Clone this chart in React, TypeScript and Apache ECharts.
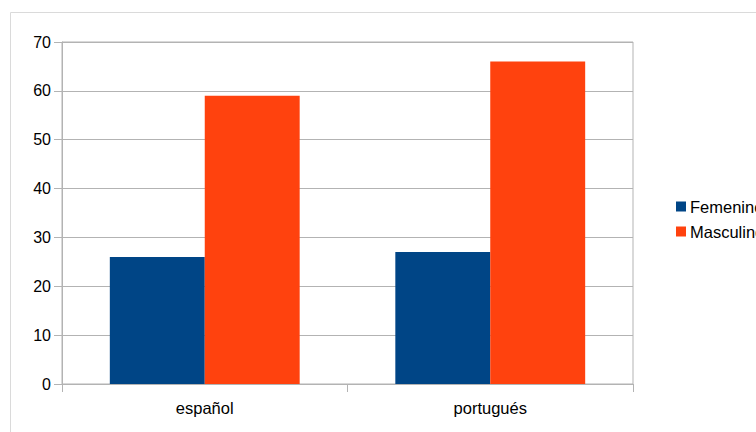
import React, { useEffect, useRef } from "react";
import * as echarts from "echarts";

const categories = ["español", "portugués"];
const femenino = [26, 27];
const masculino = [59, 66];
const seriesNames = ["Femenino", "Masculino"];

const FONT = "'Liberation Sans', Arial, sans-serif";
const GRID = "#b3b3b3";

export default function App() {
  const ref = useRef<HTMLDivElement>(null);

  useEffect(() => {
    if (!ref.current) return;
    const chart = echarts.init(ref.current, undefined, { renderer: "svg" });
    chart.setOption({
      animation: false,
      backgroundColor: "#ffffff",
      textStyle: { fontFamily: FONT },
      graphic: [
        {
          type: "rect",
          shape: { x: 10.5, y: 12.5, width: 900, height: 600 },
          style: { fill: "none", stroke: "#dadada", lineWidth: 1 },
          silent: true,
        },
      ],
      grid: {
        left: 62,
        top: 42,
        right: 123,
        bottom: 48,
        show: true,
        borderColor: GRID,
        borderWidth: 1,
        backgroundColor: "transparent",
      },
      legend: {
        orient: "vertical",
        left: 671,
        top: 193,
        itemWidth: 10,
        itemHeight: 10,
        itemGap: 8,
        icon: "rect",
        data: seriesNames,
        textStyle: { fontFamily: FONT, fontSize: 16.5, color: "#000000", padding: [0, 0, 0, -1] },
      },
      xAxis: {
        type: "category",
        data: categories,
        axisLine: { show: true, lineStyle: { color: GRID, width: 1 } },
        axisTick: { show: true, length: 8, alignWithLabel: false, lineStyle: { color: GRID } },
        axisLabel: { margin: 15, fontSize: 16.5, color: "#000000", fontFamily: FONT },
        splitLine: { show: false },
      },
      yAxis: {
        type: "value",
        min: 0,
        max: 70,
        interval: 10,
        axisLine: { show: true, lineStyle: { color: GRID, width: 1 } },
        axisTick: { show: true, length: 8, lineStyle: { color: GRID } },
        axisLabel: { margin: 11, fontSize: 16, color: "#000000", fontFamily: FONT },
        splitLine: { show: true, lineStyle: { color: GRID, width: 1 } },
      },
      series: [
        {
          name: seriesNames[0],
          type: "bar",
          data: femenino,
          itemStyle: { color: "#004586" },
          barGap: "0%",
          barCategoryGap: "33.5%",
        },
        {
          name: seriesNames[1],
          type: "bar",
          data: masculino,
          itemStyle: { color: "#ff420e" },
          barGap: "0%",
          barCategoryGap: "33.5%",
        },
      ],
    });
    return () => chart.dispose();
  }, []);

  return (
    <div
      ref={ref}
      style={{ position: "fixed", left: 0, top: 0, width: 756, height: 432 }}
    />
  );
}
